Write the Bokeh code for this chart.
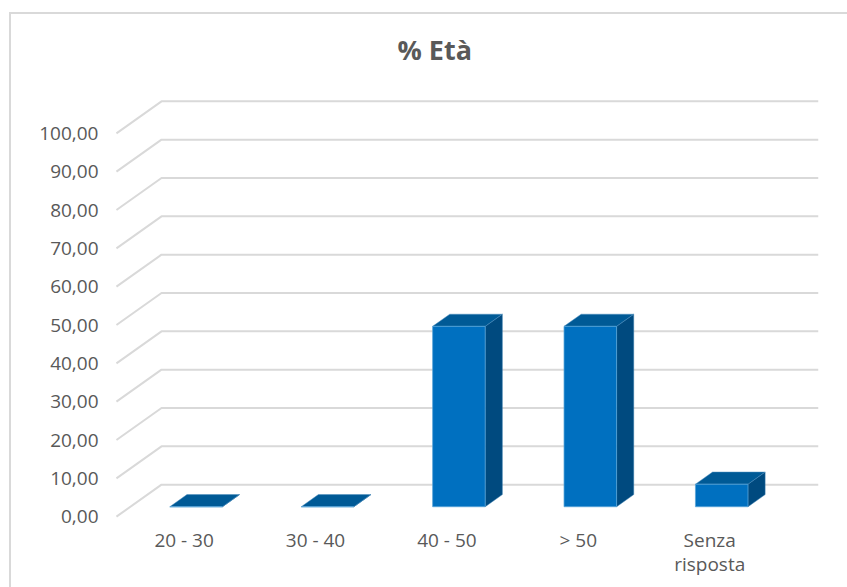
from bokeh.plotting import figure
from bokeh.embed import file_html
from bokeh.resources import INLINE
from bokeh.models import FixedTicker, InlineStyleSheet, Range1d

title_text = "% Età"
categories = ["20 - 30", "30 - 40", "40 - 50", "> 50", "Senza\nrisposta"]
percent = [0.0, 0.0, 47.06, 47.06, 5.88]
y_ticks = [0, 10, 20, 30, 40, 50, 60, 70, 80, 90, 100]
y_labels = ["0,00", "10,00", "20,00", "30,00", "40,00", "50,00",
            "60,00", "70,00", "80,00", "90,00", "100,00"]

FONT = "Open Sans"
TEXT = "#595959"
GRID = "#d9d9d9"
# oblique projection of the 3-D chart: depth 0 (front) .. 1 (back wall)
DX, DY = 0.343, 8.35
BAR_W = 0.40
D0, D1 = 0.31, 0.69


def proj(cat, val, depth):
    return cat + depth * DX, val + depth * DY


n = len(categories)
p = figure(width=847, height=587, output_backend="svg", toolbar_location=None,
           x_range=Range1d(-0.03, n + DX), y_range=Range1d(-1, 100 + DY + 1),
           min_border_left=112, min_border_right=29, min_border_top=97, min_border_bottom=67,
           background_fill_color="white", border_fill_color="white")
p.outline_line_color = None
p.grid.visible = False

# chart-area border: only the top and left edges fall inside the picture
p.stylesheets = [InlineStyleSheet(css=(
    ":host::before {content: ''; position: absolute; left: 9px; top: 12px; right: 0; bottom: 0;"
    f" border-top: 2px solid {GRID}; border-left: 2px solid {GRID};"
    " z-index: 5; pointer-events: none;}"
))]

p.title.text = title_text
p.title.text_font = FONT
p.title.text_font_size = "27px"
p.title.text_font_style = "bold"
p.title.text_color = TEXT
p.title.align = "left"
p.title.offset = 285
p.title.standoff = 56
p.title.vertical_align = "top"

# gridlines: back wall plus the diagonal on the side wall
gx, gy = [], []
for t in y_ticks:
    fx, fy = proj(0, t, 0)
    bx, by = proj(0, t, 1)
    ex, ey = proj(n, t, 1)
    gx.append([fx, bx, ex])
    gy.append([fy, by, ey])
p.multi_line(gx, gy, line_color=GRID, line_width=2)

# bars
side_x, side_y, top_x, top_y, front_x, front_y = [], [], [], [], [], []
for i, v in enumerate(percent):
    l = i + 0.5 - BAR_W / 2
    r = i + 0.5 + BAR_W / 2
    a = proj(l, 0, D0); b = proj(r, 0, D0)
    c = proj(r, v, D0); d = proj(l, v, D0)
    e = proj(r, 0, D1); f = proj(r, v, D1); g = proj(l, v, D1)
    front_x.append([a[0], b[0], c[0], d[0]]); front_y.append([a[1], b[1], c[1], d[1]])
    side_x.append([b[0], e[0], f[0], c[0]]); side_y.append([b[1], e[1], f[1], c[1]])
    top_x.append([d[0], c[0], f[0], g[0]]); top_y.append([d[1], c[1], f[1], g[1]])

p.patches(side_x, side_y, fill_color="#004a7f", line_color="#2f74a8", line_width=0.5)
p.patches(top_x, top_y, fill_color="#005a96", line_color="#4f8fbe", line_width=0.5)
p.patches(front_x, front_y, fill_color="#0070c0", line_color="#5aa5d8", line_width=0.75)

# axes
p.yaxis.ticker = FixedTicker(ticks=y_ticks)
p.yaxis.major_label_overrides = dict(zip(y_ticks, y_labels))
p.yaxis.axis_line_color = None
p.yaxis.major_tick_line_color = None
p.yaxis.minor_tick_line_color = None
p.yaxis.major_label_standoff = 8
p.yaxis.major_label_text_font = FONT
p.yaxis.major_label_text_font_size = "19px"
p.yaxis.major_label_text_color = TEXT

x_ticks = [i + 0.515 for i in range(n)]
p.xaxis.ticker = FixedTicker(ticks=x_ticks)
p.xaxis.major_label_overrides = dict(zip(x_ticks, categories))
p.xaxis.axis_line_color = None
p.xaxis.major_tick_line_color = None
p.xaxis.minor_tick_line_color = None
p.xaxis.major_label_standoff = 0
p.xaxis.major_label_text_font = FONT
p.xaxis.major_label_text_font_size = "19px"
p.xaxis.major_label_text_line_height = 0.95
p.xaxis.major_label_text_color = TEXT

open("out.html", "w").write(file_html(p, INLINE))
